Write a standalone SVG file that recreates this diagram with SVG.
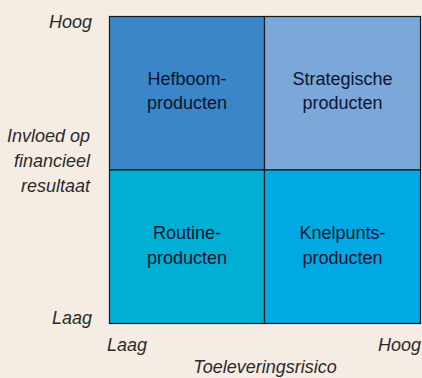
<svg xmlns="http://www.w3.org/2000/svg" width="422" height="378" viewBox="0 0 422 378">
<style>
.lbl{font-family:"Liberation Sans Narrow","Liberation Sans",sans-serif;font-size:18px;fill:#0d1530;text-anchor:middle}
.ax{font-family:"Liberation Sans Narrow","Liberation Sans",sans-serif;font-size:18px;font-style:italic;fill:#2a2a2a}
.cell{stroke:#1a1a1a;stroke-width:1.2}
</style>
<rect width="422" height="378" fill="#f5ede4"/>
<g id="hefboom">
<rect class="cell" x="109.5" y="16.5" width="155" height="153.5" fill="#3a86c8"/>
<text class="lbl" x="187" y="85">Hefboom-</text>
<text class="lbl" x="187" y="108.5">producten</text>
</g>
<g id="strategisch">
<rect class="cell" x="264.5" y="16.5" width="156" height="153.5" fill="#7ba7d9"/>
<text class="lbl" x="342.5" y="85">Strategische</text>
<text class="lbl" x="342.5" y="109">producten</text>
</g>
<g id="routine">
<rect class="cell" x="109.5" y="170" width="155" height="153.5" fill="#00afd3"/>
<text class="lbl" x="187" y="239">Routine-</text>
<text class="lbl" x="187" y="264">producten</text>
</g>
<g id="knelpunt">
<rect class="cell" x="264.5" y="170" width="156" height="153.5" fill="#00a9e3"/>
<text class="lbl" x="342.5" y="239">Knelpunts-</text>
<text class="lbl" x="342.5" y="264">producten</text>
</g>
<g id="axes">
<text class="ax" x="92" y="28" text-anchor="end">Hoog</text>
<text class="ax" x="90" y="142" text-anchor="end">Invloed op</text>
<text class="ax" x="90" y="167" text-anchor="end">financieel</text>
<text class="ax" x="90" y="192" text-anchor="end">resultaat</text>
<text class="ax" x="92" y="324" text-anchor="end">Laag</text>
<text class="ax" x="107" y="351">Laag</text>
<text class="ax" x="421" y="351" text-anchor="end">Hoog</text>
<text class="ax" x="265" y="373" text-anchor="middle">Toeleveringsrisico</text>
</g>
</svg>
